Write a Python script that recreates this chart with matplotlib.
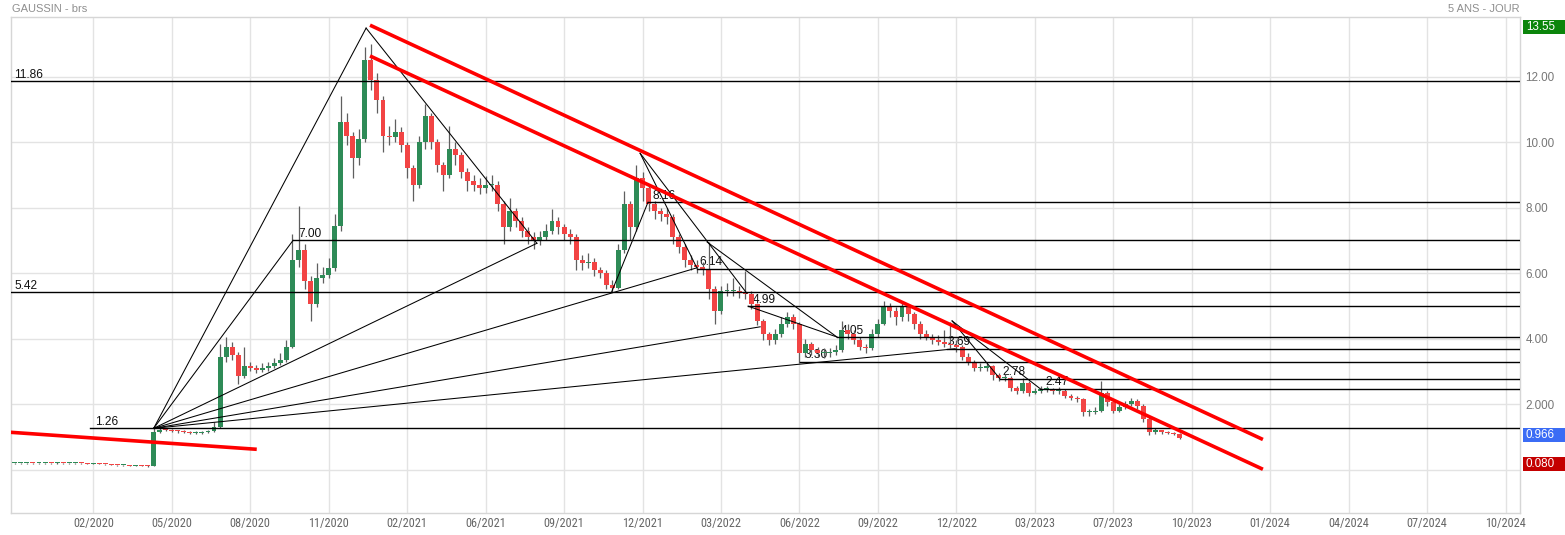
import matplotlib
matplotlib.use("Agg")
import matplotlib.pyplot as plt
import matplotlib.font_manager as fm
import matplotlib.transforms as mtransforms
from matplotlib.patches import Rectangle

# ---------------- data (weekly candles, week 0 = first tick "02/2020") ----------------
first_week = -13
first_open = 0.19
closes = [
    0.19, 0.19, 0.20, 0.19, 0.19, 0.20, 0.19, 0.20, 0.19, 0.19,
    0.20, 0.19, 0.18, 0.18, 0.17, 0.16, 0.14, 0.13, 0.14, 0.12,
    0.13, 0.12, 0.11, 1.15, 1.22, 1.21, 1.19, 1.17, 1.16, 1.13,
    1.13, 1.14, 1.17, 1.30, 3.45, 3.75, 3.50, 2.85, 3.15, 3.10,
    3.05, 3.10, 3.15, 3.25, 3.35, 3.75, 6.40, 6.70, 5.75, 5.05,
    5.85, 5.95, 6.15, 7.45, 10.60, 10.20, 9.50, 10.10, 12.50, 11.90,
    11.30, 10.20, 10.15, 10.30, 9.90, 9.20, 8.70, 10.00, 10.80, 10.00,
    9.30, 9.00, 9.80, 9.60, 9.10, 8.80, 8.70, 8.60, 8.70, 8.70,
    8.10, 7.40, 7.90, 7.60, 7.30, 7.10, 7.00, 7.10, 7.30, 7.60,
    7.40, 7.20, 7.10, 6.40, 6.30, 6.35, 6.10, 6.00, 5.65, 5.55,
    6.70, 8.10, 7.40, 8.90, 8.60, 8.10, 7.90, 7.80, 7.70, 7.10,
    6.80, 6.40, 6.25, 6.20, 6.10, 5.50, 4.85, 5.45, 5.45, 5.45,
    5.40, 5.35, 5.05, 4.55, 4.15, 3.95, 4.15, 4.45, 4.65, 4.45,
    3.55, 3.85, 3.65, 3.55, 3.55, 3.60, 3.65, 4.25, 4.15, 3.95,
    3.75, 3.70, 4.15, 4.45, 4.95, 4.85, 4.65, 4.95, 4.75, 4.45,
    4.15, 4.05, 3.95, 3.90, 3.85, 3.80, 3.75, 3.45, 3.30, 3.10,
    3.10, 3.15, 2.90, 2.80, 2.80, 2.50, 2.40, 2.65, 2.35, 2.40,
    2.45, 2.45, 2.40, 2.40, 2.25, 2.20, 2.15, 1.75, 1.75, 1.80,
    2.35, 2.05, 1.80, 1.90, 2.00, 2.10, 1.95, 1.55, 1.15, 1.20,
    1.15, 1.13, 1.10, 0.97,
]
highs = [
    0.21, 0.20, 0.21, 0.21, 0.20, 0.21, 0.21, 0.22, 0.21, 0.20,
    0.21, 0.21, 0.20, 0.19, 0.19, 0.18, 0.17, 0.15, 0.15, 0.15,
    0.14, 0.14, 0.13, 1.30, 1.28, 1.26, 1.24, 1.22, 1.20, 1.18,
    1.17, 1.18, 1.22, 1.45, 3.85, 4.05, 3.90, 3.60, 3.75, 3.30,
    3.20, 3.25, 3.28, 3.40, 3.55, 3.95, 7.20, 8.05, 6.90, 5.90,
    6.30, 6.20, 6.45, 7.80, 11.40, 10.90, 10.30, 10.40, 12.90, 13.00,
    12.10, 11.40, 10.50, 10.70, 10.45, 10.00, 9.30, 10.20, 11.15, 10.90,
    10.10, 9.40, 10.50, 10.00, 9.70, 9.20, 9.00, 8.90, 8.95, 9.00,
    8.80, 8.20, 8.30, 8.00, 7.70, 7.40, 7.25, 7.30, 7.50, 7.95,
    7.70, 7.50, 7.35, 7.20, 6.55, 6.60, 6.45, 6.20, 6.10, 5.80,
    6.90, 8.50, 8.20, 9.30, 9.10, 8.70, 8.20, 8.00, 8.00, 7.80,
    7.20, 6.90, 6.55, 6.40, 6.35, 6.95, 5.60, 5.60, 5.70, 5.85,
    5.60, 6.05, 5.45, 5.10, 4.60, 4.20, 4.30, 4.65, 4.80, 4.75,
    4.50, 4.00, 3.90, 3.75, 3.70, 3.70, 3.80, 4.55, 4.45, 4.25,
    4.05, 3.85, 4.30, 4.60, 5.15, 5.10, 4.95, 5.10, 5.05, 4.80,
    4.55, 4.25, 4.15, 4.10, 4.25, 4.50, 3.95, 3.80, 3.55, 3.35,
    3.25, 3.30, 3.20, 2.95, 2.92, 2.85, 2.55, 2.80, 2.70, 2.50,
    2.55, 2.55, 2.50, 2.52, 2.45, 2.30, 2.25, 2.18, 1.85, 1.90,
    2.70, 2.40, 2.10, 2.00, 2.10, 2.20, 2.15, 2.00, 1.60, 1.28,
    1.22, 1.18, 1.16, 1.12,
]
lows = [
    0.17, 0.18, 0.18, 0.18, 0.18, 0.18, 0.18, 0.18, 0.18, 0.17,
    0.18, 0.18, 0.17, 0.16, 0.16, 0.15, 0.13, 0.12, 0.12, 0.11,
    0.11, 0.10, 0.08, 0.10, 1.12, 1.17, 1.15, 1.13, 1.12, 1.09,
    1.09, 1.10, 1.11, 1.14, 1.28, 3.30, 3.35, 2.60, 2.80, 3.00,
    2.95, 2.98, 3.02, 3.10, 3.20, 3.30, 3.70, 6.20, 5.50, 4.55,
    4.95, 5.70, 5.85, 6.05, 7.30, 9.90, 8.90, 9.30, 10.00, 11.60,
    10.90, 9.70, 9.90, 10.00, 9.70, 8.90, 8.20, 8.60, 9.80, 9.80,
    9.10, 8.50, 8.90, 9.30, 8.90, 8.50, 8.50, 8.40, 8.45, 8.50,
    7.90, 6.90, 7.30, 7.40, 7.10, 6.90, 6.75, 6.85, 7.00, 7.20,
    7.20, 7.00, 6.90, 6.10, 6.10, 6.15, 5.90, 5.85, 5.50, 5.42,
    5.50, 6.60, 7.00, 7.30, 8.20, 7.90, 7.65, 7.60, 7.50, 6.90,
    6.60, 6.20, 6.10, 6.00, 5.95, 5.20, 4.45, 4.75, 5.30, 5.30,
    5.25, 5.20, 4.90, 4.40, 3.95, 3.80, 3.85, 4.05, 4.35, 4.30,
    3.25, 3.45, 3.50, 3.45, 3.40, 3.45, 3.50, 3.60, 4.00, 3.85,
    3.65, 3.55, 3.65, 4.05, 4.40, 4.65, 4.40, 4.55, 4.55, 4.30,
    4.00, 3.95, 3.85, 3.80, 3.75, 3.70, 3.60, 3.35, 3.20, 3.00,
    3.00, 3.00, 2.75, 2.70, 2.70, 2.40, 2.30, 2.35, 2.25, 2.30,
    2.35, 2.38, 2.32, 2.32, 2.18, 2.12, 2.05, 1.65, 1.65, 1.70,
    1.75, 1.95, 1.72, 1.75, 1.85, 1.95, 1.85, 1.45, 1.05, 1.10,
    1.10, 1.08, 1.05, 0.94,
]

tick_labels = ["02/2020", "05/2020", "08/2020", "11/2020", "02/2021", "06/2021",
               "09/2021", "12/2021", "03/2022", "06/2022", "09/2022", "12/2022",
               "03/2023", "07/2023", "10/2023", "01/2024", "04/2024", "07/2024",
               "10/2024"]
weeks_per_tick = 13
ytick_values = [2, 4, 6, 8, 10, 12]
ytick_texts = ["2.000", "4.00", "6.00", "8.00", "10.00", "12.00"]

# horizontal support/resistance levels: value, starting week (None = left edge), label week
levels = [11.86, 8.16, 7.00, 6.14, 5.42, 4.99, 4.05, 3.69, 3.30, 2.78, 2.47, 1.26]
level_start = [None, 91.9, 33.1, 100.0, None, 108.5, 123.2, 141.5, 117.1, 150.2, 156.9, -0.55]
level_label_week = [-13.1, 92.6, 33.9, 100.4, -13.1, 109.3, 123.9, 141.6, 117.9, 150.6, 157.7, 0.3]
level_labels = ["11.86", "8.16", "7.00", "6.14", "5.42", "4.99", "4.05", "3.69", "3.30", "2.78", "2.47", "1.26"]

# anchor points of the drawn fan / trend lines (week, price)
pts = {
    "A": (10.0, 1.26), "P": (45.2, 13.48), "B": (33.1, 7.00), "D": (73.5, 6.91),
    "H": (100.0, 6.16), "E": (110.5, 4.36), "I": (142.8, 3.69), "Q": (90.6, 9.66),
    "C": (85.9, 5.43), "G": (91.9, 8.16), "K": (108.3, 5.38), "K2": (108.5, 4.99),
    "L": (101.7, 6.95), "N": (123.2, 4.05), "J": (142.3, 4.54), "R": (150.2, 2.78),
    "S": (156.9, 2.47),
}
fan_segments = [("A", "P"), ("A", "B"), ("A", "D"), ("A", "H"), ("A", "E"), ("A", "I"),
                ("P", "D"), ("Q", "H"), ("Q", "K"), ("C", "G"), ("L", "N"), ("K2", "N"),
                ("J", "R"), ("J", "S")]
red_lines = [((-13.77, 1.14), (27.08, 0.62)),
             ((45.85, 13.57), (193.8, 0.92)),
             ((45.85, 12.63), (193.8, 0.01))]

last_high_txt, last_close_txt, low_txt = "13.55", "0.966", "0.080"

# ---------------- fonts ----------------
names = {f.name for f in fm.fontManager.ttflist}
main_font = "Liberation Sans" if "Liberation Sans" in names else "DejaVu Sans"
narrow_prop = None
for wanted in ["Liberation Sans Narrow", "Arial Narrow", "Roboto Condensed", "Open Sans Condensed"]:
    if wanted in names:
        narrow_prop = fm.FontProperties(family=wanted, size=8.8)
        break
if narrow_prop is None:
    cond = [f for f in fm.fontManager.ttflist
            if f.stretch in ("condensed", "semi-condensed") and f.weight in (400, "normal", "regular")
            and f.style == "normal"]
    if cond:
        narrow_prop = fm.FontProperties(fname=cond[0].fname, size=8.6)
if narrow_prop is None:
    narrow_prop = fm.FontProperties(family=main_font, size=7.6)

# ---------------- figure ----------------
W, H = 1565, 535
fig = plt.figure(figsize=(W / 100, H / 100), dpi=100)
fig.patch.set_facecolor("white")
ax_l, ax_r, ax_t, ax_b = 10.7, 1520, 17.3, 513
ax = fig.add_axes([ax_l / W, 1 - ax_b / H, (ax_r - ax_l) / W, (ax_b - ax_t) / H])
ax.set_xlim(-13.69, 236.4)
ax.set_ylim(-1.325, 13.81)

grid_c = "#e3e3e3"
for k in range(len(tick_labels)):
    ax.axvline(k * weeks_per_tick, color=grid_c, lw=1, zorder=0)
for v in [0] + ytick_values:
    ax.axhline(v, color=grid_c, lw=1, zorder=0)
for s in ax.spines.values():
    s.set_color("#d6d6d6")
    s.set_linewidth(1)

# candles
green, red = "#2e8b57", "#f24444"
opens = [first_open] + closes[:-1]
for i, (o, c, hi, lo) in enumerate(zip(opens, closes, highs, lows)):
    x = first_week + i
    col = green if c >= o else red
    ax.plot([x, x], [lo, hi], color="#5f5f5f", lw=0.9, zorder=3, solid_capstyle="butt")
    ax.bar(x, max(abs(c - o), 0.03), bottom=min(o, c), width=0.82, color=col,
           edgecolor="none", zorder=3.5)

# levels
for v, st, lw_, txt in zip(levels, level_start, level_label_week, level_labels):
    x0 = ax.get_xlim()[0] if st is None else st
    ax.plot([x0, ax.get_xlim()[1]], [v, v], color="black", lw=1.0, zorder=4)
    ax.text(lw_, v + 0.1, txt, fontsize=8.6, family=main_font, color="#111111",
            ha="left", va="baseline", zorder=2)

# fan lines
for a, b in fan_segments:
    (x1, y1), (x2, y2) = pts[a], pts[b]
    ax.plot([x1, x2], [y1, y2], color="black", lw=0.75, zorder=4)

# red trend lines
for (x1, y1), (x2, y2) in red_lines:
    ax.plot([x1, x2], [y1, y2], color="#ff0000", lw=2.6, zorder=5, solid_capstyle="butt")

# axes ticks
ax.set_xticks([k * weeks_per_tick for k in range(len(tick_labels))])
ax.set_xticklabels(tick_labels, color="#666666")
for t in ax.get_xticklabels():
    t.set_fontproperties(narrow_prop)
ax.tick_params(axis="x", length=0, pad=3)
ax.yaxis.tick_right()
ax.set_yticks(ytick_values)
ax.set_yticklabels(ytick_texts, fontsize=8.4, family=main_font, color="#777777")
ax.tick_params(axis="y", length=0, pad=4)

# colored value boxes on the right
bt = mtransforms.blended_transform_factory(fig.transFigure, ax.transData)
box_h = 14.5 / 32.76
for txt, yc, col in [(last_high_txt, 13.52, "#0b850b"), (last_close_txt, 1.05, "#3b6cf5"),
                     (low_txt, 0.17, "#c40000")]:
    fig.patches.append(Rectangle((1523 / W, yc - box_h / 2), 42 / W, box_h, transform=bt,
                                 facecolor=col, edgecolor="none", zorder=10))
    fig.text(1526 / W, yc, txt, transform=bt, fontsize=8.4, family=main_font,
             color="white", ha="left", va="center", zorder=11)

# header texts
fig.text(11.5 / W, 1 - 9 / H, "GAUSSIN - brs", fontsize=8, family=main_font,
         color="#8f8f8f", ha="left", va="center")
fig.text(1520 / W, 1 - 9 / H, "5 ANS - JOUR", fontsize=8, family=main_font,
         color="#8f8f8f", ha="right", va="center")

fig.savefig("out.png", dpi=100, facecolor="white")
